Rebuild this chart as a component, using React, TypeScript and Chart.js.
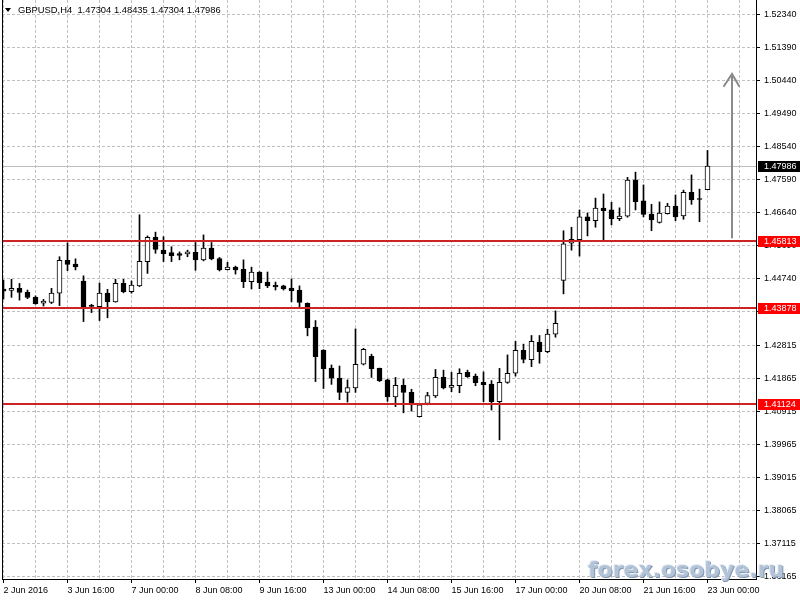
import React, { useEffect, useRef } from 'react';
import { Chart, registerables } from 'chart.js';

Chart.register(...registerables);

// ---- data ----
const title = 'GBPUSD,H4  1.47304 1.48435 1.47304 1.47986';

const dateLabels = [
  '2 Jun 2016', '3 Jun 16:00', '7 Jun 00:00', '8 Jun 08:00', '9 Jun 16:00', '13 Jun 00:00',
  '14 Jun 08:00', '15 Jun 16:00', '17 Jun 00:00', '20 Jun 08:00', '21 Jun 16:00', '23 Jun 00:00',
];

const priceTicks = [
  1.52340, 1.51390, 1.50440, 1.49490, 1.48540, 1.47590, 1.46640, 1.45690, 1.44740,
  1.43790, 1.42815, 1.41865, 1.40915, 1.39965, 1.39015, 1.38065, 1.37115, 1.36165,
];

const opens = [
  1.4444, 1.4440, 1.4446, 1.4435, 1.4420, 1.4403, 1.4405, 1.4432, 1.4527, 1.4516,
  1.4467, 1.4395, 1.4393, 1.4432, 1.4407, 1.4460, 1.4436, 1.4453, 1.4523, 1.4593,
  1.4556, 1.4549, 1.4546, 1.4545, 1.4550, 1.4528, 1.4562, 1.4532, 1.4500, 1.4507,
  1.4501, 1.4465, 1.4493, 1.4464, 1.4455, 1.4453, 1.4447, 1.4441, 1.4403, 1.4334,
  1.4268, 1.4216, 1.4187, 1.4146, 1.4159, 1.4227, 1.4250, 1.4215, 1.4182, 1.4133,
  1.4166, 1.4146, 1.4076, 1.4114, 1.4136, 1.4189, 1.4160, 1.4165, 1.4204, 1.4193,
  1.4175, 1.4170, 1.4119, 1.4175, 1.4201, 1.4267, 1.4240, 1.4291, 1.4263, 1.4314,
  1.4469, 1.4576, 1.4586, 1.4652, 1.4641, 1.4677, 1.4672, 1.4647, 1.4654, 1.4758,
  1.4698, 1.4660, 1.4636, 1.4661, 1.4683, 1.4655, 1.4723, 1.4703, 1.47304,
];
const highs = [
  1.4470, 1.4472, 1.4460, 1.4441, 1.4424, 1.4414, 1.4446, 1.4537, 1.4577, 1.4531,
  1.4482, 1.4400, 1.4461, 1.4443, 1.4472, 1.4472, 1.4467, 1.4658, 1.4597, 1.4608,
  1.4595, 1.4566, 1.4551, 1.4556, 1.4578, 1.4600, 1.4578, 1.4535, 1.4521, 1.4510,
  1.4528, 1.4507, 1.4494, 1.4493, 1.4464, 1.4455, 1.4473, 1.4453, 1.4404, 1.4353,
  1.4269, 1.4225, 1.4222, 1.4182, 1.4329, 1.4273, 1.4256, 1.4216, 1.4184, 1.4189,
  1.4184, 1.4155, 1.4112, 1.4146, 1.4212, 1.4210, 1.4204, 1.4214, 1.4210, 1.4199,
  1.4205, 1.4180, 1.4215, 1.4254, 1.4293, 1.4285, 1.4310, 1.4310, 1.4328, 1.4381,
  1.4612, 1.4622, 1.4672, 1.4663, 1.4706, 1.4718, 1.4694, 1.4678, 1.4766, 1.4781,
  1.4744, 1.4688, 1.4695, 1.4691, 1.4715, 1.4729, 1.4773, 1.4732, 1.48435,
];
const lows = [
  1.4415, 1.4420, 1.4412, 1.4416, 1.4400, 1.4395, 1.4402, 1.4396, 1.4497, 1.4499,
  1.4350, 1.4376, 1.4353, 1.4361, 1.4406, 1.4433, 1.4432, 1.4451, 1.4489, 1.4547,
  1.4523, 1.4523, 1.4528, 1.4537, 1.4498, 1.4525, 1.4528, 1.4496, 1.4499, 1.4487,
  1.4448, 1.4444, 1.4445, 1.4448, 1.4441, 1.4441, 1.4407, 1.4388, 1.4309, 1.4177,
  1.4157, 1.4169, 1.4125, 1.4118, 1.4146, 1.4225, 1.4189, 1.4177, 1.4120, 1.4105,
  1.4087, 1.4092, 1.4075, 1.4110, 1.4131, 1.4156, 1.4148, 1.4145, 1.4189, 1.4165,
  1.4119, 1.4095, 1.4009, 1.4172, 1.4193, 1.4231, 1.4220, 1.4230, 1.4260, 1.4305,
  1.4430, 1.4556, 1.4539, 1.4597, 1.4622, 1.4585, 1.4629, 1.4641, 1.4651, 1.4672,
  1.4652, 1.4612, 1.4634, 1.4660, 1.4641, 1.4645, 1.4688, 1.4638, 1.47304,
];
const closes = [
  1.4438, 1.4446, 1.4434, 1.4420, 1.4402, 1.4409, 1.4432, 1.4527, 1.4515, 1.4508,
  1.4393, 1.4394, 1.4432, 1.4407, 1.4460, 1.4436, 1.4455, 1.4524, 1.4593, 1.4558,
  1.4546, 1.4540, 1.4541, 1.4551, 1.4528, 1.4562, 1.4531, 1.4499, 1.4507, 1.4499,
  1.4465, 1.4493, 1.4462, 1.4453, 1.4450, 1.4444, 1.4439, 1.4405, 1.4332, 1.4249,
  1.4214, 1.4187, 1.4146, 1.4160, 1.4227, 1.4270, 1.4214, 1.4180, 1.4133, 1.4166,
  1.4146, 1.4110, 1.4110, 1.4137, 1.4189, 1.4159, 1.4166, 1.4201, 1.4191, 1.4174,
  1.4168, 1.4119, 1.4175, 1.4201, 1.4267, 1.4241, 1.4293, 1.4263, 1.4314, 1.4345,
  1.4574, 1.4587, 1.4652, 1.4641, 1.4677, 1.4670, 1.4647, 1.4654, 1.4758, 1.4696,
  1.4659, 1.4643, 1.4663, 1.4683, 1.4652, 1.4723, 1.4701, 1.4702, 1.47986,
];

const levels = [1.45813, 1.43878, 1.41124];
const lastPrice = 1.47986;

const arrowBar = 91;
const arrowFrom = 1.4590;
const arrowTo = 1.5064;
const arrowHeadPrice = 1.5027;

// ---- styles ----
const FONT = '"Liberation Sans", Arial, sans-serif';
const GRID = '#c0c0c0';
const LEVEL_LINE = '#cc2424';

const overlay = {
  id: 'overlay',
  beforeDatasetsDraw(chart: any) {
    const { ctx, chartArea: a, scales } = chart;
    const py = Math.round(scales.y.getPixelForValue(lastPrice)) + 0.5;
    ctx.save();
    ctx.strokeStyle = '#bdbdbd';
    ctx.lineWidth = 1;
    ctx.beginPath();
    ctx.moveTo(a.left, py);
    ctx.lineTo(a.right, py);
    ctx.stroke();
    ctx.restore();
  },
  afterDatasetsDraw(chart: any) {
    const { ctx, chartArea: a, scales } = chart;
    const { x, y } = scales;
    ctx.save();
    // level lines
    ctx.strokeStyle = LEVEL_LINE;
    ctx.lineWidth = 2;
    levels.forEach((lv) => {
      const py = Math.round(y.getPixelForValue(lv));
      ctx.beginPath();
      ctx.moveTo(a.left, py);
      ctx.lineTo(a.right, py);
      ctx.stroke();
    });
    // arrow
    const ax = Math.round(x.getPixelForValue(arrowBar));
    const y0 = y.getPixelForValue(arrowFrom);
    const y1 = y.getPixelForValue(arrowTo);
    const yh = y.getPixelForValue(arrowHeadPrice);
    const xl = x.getPixelForValue(arrowBar - 1);
    const xr = x.getPixelForValue(arrowBar + 1);
    ctx.strokeStyle = '#8a8a8a';
    ctx.lineWidth = 2;
    ctx.beginPath();
    ctx.moveTo(ax, y0);
    ctx.lineTo(ax, y1);
    ctx.moveTo(xl, yh);
    ctx.lineTo(ax, y1);
    ctx.lineTo(xr, yh);
    ctx.stroke();
    ctx.restore();
  },
  afterDraw(chart: any) {
    const { ctx, chartArea: a, scales } = chart;
    const { y } = scales;
    ctx.save();
    // left frame
    ctx.strokeStyle = '#000';
    ctx.lineWidth = 1;
    ctx.beginPath();
    ctx.moveTo(a.left + 0.5, a.top);
    ctx.lineTo(a.left + 0.5, a.bottom);
    ctx.stroke();

    // price boxes on the axis
    ctx.font = `9px ${FONT}`;
    ctx.textBaseline = 'middle';
    ctx.textAlign = 'left';
    const box = (v: number, bg: string) => {
      const py = Math.round(y.getPixelForValue(v));
      ctx.fillStyle = bg;
      ctx.fillRect(a.right + 2, py - 5, 800 - a.right - 2, 11);
      ctx.fillStyle = '#fff';
      ctx.fillText(v.toFixed(5), a.right + 8, py + 0.5);
    };
    box(lastPrice, '#000');
    levels.forEach((lv) => box(lv, '#ff0000'));

    // title
    ctx.fillStyle = '#000';
    ctx.beginPath();
    ctx.moveTo(5, 8);
    ctx.lineTo(11, 8);
    ctx.lineTo(8, 12);
    ctx.closePath();
    ctx.fill();
    ctx.font = `9.4px ${FONT}`;
    ctx.fillText(title, 18, 10.5);

    // watermark
    ctx.font = `bold 22px "DejaVu Sans", sans-serif`;
    ctx.textBaseline = 'alphabetic';
    ctx.fillStyle = '#8596b0';
    ctx.fillText('forex.osobye.ru', 589, 578);
    ctx.fillStyle = '#e6edf5';
    ctx.fillText('forex.osobye.ru', 587, 576);
    ctx.fillStyle = '#b2c3d8';
    ctx.fillText('forex.osobye.ru', 588, 577);
    ctx.restore();
  },
};

export default function App() {
  const ref = useRef<HTMLCanvasElement | null>(null);

  useEffect(() => {
    if (!ref.current) return;
    const idx = opens.map((_, i) => i);
    const bodyData = idx.map((i) => ({ x: i, y: [opens[i], closes[i]] }));
    const wickData = idx.map((i) => ({ x: i, y: [lows[i], highs[i]] }));
    const bodyFill = idx.map((i) => (closes[i] >= opens[i] ? '#ffffff' : '#000000'));
    const xTicks: number[] = [];
    for (let v = 0; v <= 92; v += 4) xTicks.push(v);

    const chart = new Chart(ref.current, {
      type: 'bar',
      data: {
        datasets: [
          {
            data: bodyData as any,
            backgroundColor: bodyFill,
            borderColor: '#000',
            borderWidth: 1,
            borderSkipped: false,
            barThickness: 5,
            minBarLength: 1,
            grouped: false,
            order: 0,
          } as any,
          {
            data: wickData as any,
            backgroundColor: '#000',
            borderWidth: 0,
            barThickness: 1,
            grouped: false,
            order: 1,
          } as any,
        ],
      },
      options: {
        animation: false,
        responsive: false,
        maintainAspectRatio: false,
        layout: { padding: { left: 2, top: 0, right: 0, bottom: 0 } },
        plugins: { legend: { display: false }, tooltip: { enabled: false } },
        scales: {
          x: {
            type: 'linear',
            offset: false,
            min: -0.1875,
            max: 94.0625,
            afterBuildTicks: (s: any) => {
              s.ticks = xTicks.map((v) => ({ value: v }));
            },
            afterFit: (s: any) => {
              s.height = 21;
              s.paddingLeft = 0;
              s.paddingRight = 0;
            },
            ticks: {
              autoSkip: false,
              maxRotation: 0,
              minRotation: 0,
              align: 'start',
              padding: 2,
              color: '#000',
              font: { family: FONT, size: 9 },
              callback: (v: any) => (Number(v) % 8 === 0 ? dateLabels[Number(v) / 8] : ''),
            },
            grid: {
              offset: false,
              color: GRID,
              lineWidth: 1,
              drawTicks: true,
              tickLength: 4,
              tickColor: (c: any) => (c.tick && c.tick.value % 8 === 0 ? '#000' : 'rgba(0,0,0,0)'),
              tickBorderDash: [],
            },
            border: { display: true, color: '#000', width: 1, dash: [3, 2] },
          } as any,
          y: {
            type: 'linear',
            position: 'right',
            min: 1.36079,
            max: 1.52772,
            afterBuildTicks: (s: any) => {
              s.ticks = priceTicks.map((v) => ({ value: v }));
            },
            afterFit: (s: any) => {
              s.width = 44;
              s.paddingTop = 0;
              s.paddingBottom = 0;
            },
            ticks: {
              padding: 4,
              color: '#000',
              font: { family: FONT, size: 9 },
              callback: (v: any) => Number(v).toFixed(5),
            },
            grid: {
              color: GRID,
              lineWidth: 1,
              drawTicks: true,
              tickLength: 4,
              tickColor: '#000',
              tickBorderDash: [],
            },
            border: { display: true, color: '#000', width: 1, dash: [3, 2] },
          } as any,
        },
      },
      plugins: [overlay],
    });
    return () => chart.destroy();
  }, []);

  return (
    <div style={{ position: 'absolute', left: 0, top: 0, width: 800, height: 600, background: '#fff' }}>
      <canvas ref={ref} width={800} height={600} style={{ display: 'block', width: 800, height: 600 }} />
    </div>
  );
}
